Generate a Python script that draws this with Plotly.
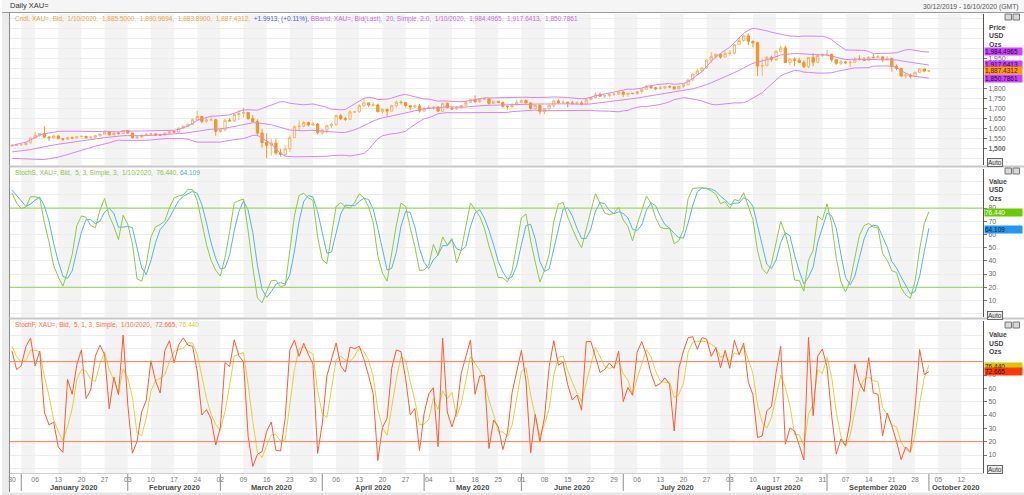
import numpy as np
import pandas as pd
import plotly.graph_objects as go

# ---------------- data: XAU= daily bid ----------------
# 20 sessions before the window (2–27 Dec 2019), needed to warm up the indicators
pre_high = [1470,1479,1481,1483,1478, 1465,1467,1477,1479,1480, 1480,1479,1480,1481,1481, 1488,1500,1502,1512,1515]
pre_low = [1454,1461,1470,1472,1457, 1458,1459,1460,1462,1466, 1473,1472,1472,1472,1474, 1477,1486,1497,1498,1507]
pre_close = [1463,1477,1474,1476,1460, 1461,1465,1475,1468,1476, 1476,1475,1475,1479,1478, 1487,1499,1500,1511,1511]

# 30 Dec 2019 – 1 Oct 2020, one value per weekday
open_ = [1511,1515,1517,1518,1528, 1552,1566,1574,1556,1553, 1562,1548,1545,1554,1551, 1557,1560,1553,1556,1563,
         1571,1582,1567,1576,1575, 1589,1577,1553,1556,1566, 1570,1572,1566,1566,1576, 1584,1581,1601,1611,1620,
         1643,1659,1635,1642,1643, 1585,1593,1640,1637,1669, 1674,1679,1649,1634,1576, 1529,1515,1526,1477,1470,
         1498,1553,1608,1611,1629, 1617,1621,1577,1591,1613, 1620,1663,1648,1645,1682, 1682,1713,1727,1716,1717,
         1683,1695,1686,1713,1730, 1729,1713,1706,1712,1687, 1700,1703,1705,1686,1725, 1702,1697,1702,1715,1730,
         1743,1733,1745,1748,1725, 1735,1729,1710,1708,1718, 1730,1739,1727,1699,1714, 1685,1698,1715,1737,1728,
         1730,1726,1725,1727,1722, 1743,1754,1768,1761,1763, 1771,1772,1781,1770,1775, 1774,1784,1795,1809,1803,
         1798,1802,1809,1807,1797, 1810,1817,1842,1871,1887, 1902,1941,1958,1970,1956, 1975,1976,2018,2039,2062,
         2035,2028,1911,1914,1954, 1944,1985,2002,1929,1946, 1940,1929,1908,1954,1930, 1964,1968,1970,1943,1925,
         1932,1928,1930,1945,1944, 1940,1955,1953,1957,1942, 1949,1911,1899,1862,1866, 1861,1880,1897,1885.5]
high = [1519,1524,1520,1530,1553, 1582,1576,1611,1561,1563, 1563,1549,1558,1558,1561, 1563,1562,1560,1566,1573,
        1588,1583,1580,1584,1589, 1592,1578,1562,1568,1574, 1576,1574,1572,1578,1585, 1586,1604,1612,1624,1649,
        1689,1660,1652,1660,1646, 1603,1649,1652,1673,1692, 1703,1681,1667,1645,1597, 1575,1547,1548,1497,1516,
        1565,1614,1640,1637,1633, 1632,1627,1595,1617,1626, 1669,1672,1657,1690,1685, 1720,1747,1729,1731,1723,
        1698,1699,1716,1739,1739, 1730,1715,1718,1722,1702, 1716,1711,1710,1726,1728, 1709,1711,1716,1737,1745,
        1765,1748,1753,1749,1737, 1737,1735,1715,1726,1744, 1745,1743,1729,1718,1720, 1700,1722,1740,1745,1744,
        1733,1738,1734,1737,1745, 1756,1779,1779,1768,1772, 1774,1785,1788,1776,1777, 1786,1797,1818,1817,1807,
        1815,1812,1815,1809,1812, 1820,1843,1872,1898,1904, 1945,1981,1973,1975,1985, 1992,2021,2055,2069,2075,
        2039,2033,1949,1962,1963, 1989,2015,2013,1950,1955, 1953,1941,1955,1976,1970, 1975,1992,1973,1945,1946,
        1937,1943,1956,1965,1956, 1962,1973,1966,1962,1961, 1953,1919,1903,1875,1873, 1882,1902,1899,1890.9694]
low = [1510,1513,1516,1516,1525, 1552,1558,1553,1536,1545, 1546,1536,1542,1546,1549, 1556,1547,1550,1550,1559,
       1568,1563,1565,1568,1571, 1573,1548,1547,1553,1561, 1566,1562,1563,1565,1572, 1578,1578,1599,1605,1616,
       1643,1625,1629,1636,1563, 1577,1584,1632,1633,1641, 1654,1641,1633,1561,1504, 1451,1465,1466,1459,1463,
       1482,1553,1591,1606,1609, 1612,1569,1568,1575,1602, 1612,1640,1637,1645,1679, 1679,1707,1705,1710,1680,
       1672,1659,1684,1704,1719, 1703,1690,1701,1679,1685, 1697,1693,1683,1683,1700, 1692,1693,1700,1709,1726,
       1725,1727,1741,1718,1723, 1725,1703,1693,1702,1713, 1726,1722,1693,1697,1670, 1671,1694,1704,1722,1724,
       1705,1718,1719,1715,1717, 1741,1751,1757,1752,1755, 1762,1766,1757,1758,1770, 1766,1774,1793,1797,1790,
       1796,1795,1803,1795,1796, 1801,1815,1837,1864,1879, 1898,1928,1946,1947,1954, 1962,1970,2016,2033,2015,
       2005,1862,1863,1910,1933, 1936,1980,1928,1916,1911, 1927,1901,1900,1911,1925, 1955,1960,1933,1917,1915,
       1922,1906,1927,1939,1937, 1939,1952,1950,1932,1941, 1882,1891,1855,1848,1849, 1855,1876,1880,1883.89]
close = [1515,1517,1518,1528,1552, 1566,1574,1556,1553,1562, 1548,1545,1554,1551,1557, 1560,1553,1556,1563,1571,
         1582,1567,1576,1575,1589, 1577,1553,1556,1566,1570, 1572,1566,1566,1576,1584, 1581,1601,1611,1620,1643,
         1659,1635,1642,1643,1585, 1593,1640,1637,1669,1674, 1679,1649,1634,1576,1529, 1515,1526,1477,1470,1498,
         1553,1608,1611,1629,1617, 1621,1577,1591,1613,1620, 1663,1648,1645,1682,1682, 1713,1727,1716,1717,1683,
         1695,1686,1713,1730,1729, 1713,1706,1712,1687,1700, 1703,1705,1686,1725,1702, 1697,1702,1715,1730,1743,
         1733,1745,1748,1725,1735, 1729,1710,1708,1718,1730, 1739,1727,1699,1714,1685, 1698,1715,1737,1728,1730,
         1726,1725,1727,1722,1743, 1754,1768,1761,1763,1771, 1772,1781,1770,1775,1774, 1784,1795,1809,1803,1798,
         1802,1809,1807,1797,1810, 1817,1842,1871,1887,1902, 1941,1958,1970,1956,1975, 1976,2018,2039,2062,2035,
         2028,1911,1914,1954,1944, 1985,2002,1929,1946,1940, 1929,1908,1954,1930,1964, 1968,1970,1943,1925,1932,
         1928,1930,1945,1944,1940, 1955,1953,1957,1942,1949, 1911,1899,1862,1866,1861, 1880,1897,1886,1887.4312]

# values printed in the chart's legends / axis boxes
bb_last = [1984.4965, 1917.6413, 1850.7861]
last_price = 1887.4312
stochs_last = [76.440, 64.109]
stochf_last = [72.665, 76.440]
price_ticks = [1500, 1550, 1600, 1650, 1700, 1750, 1800, 1950]
stoch_ticks = [10, 20, 30, 40, 50, 60, 70, 80]
stochf_ticks = [10, 20, 30, 40, 50, 60, 70]

# ---------------- indicators (as the chart defines them) ----------------
npre = len(pre_close)
C = pd.Series(pre_close + close, dtype=float)
H = pd.Series(pre_high + high, dtype=float)
L = pd.Series(pre_low + low, dtype=float)
mid = C.rolling(20).mean()
sd = C.rolling(20).std(ddof=0)
bb_up = (mid + 2 * sd)[npre:].tolist()
bb_mid = mid[npre:].tolist()
bb_lo = (mid - 2 * sd)[npre:].tolist()
hh = H.rolling(5).max()
ll = L.rolling(5).min()
fast_k = 100 * (C - ll) / (hh - ll)
fast_d = fast_k.rolling(3).mean()
slow_k = fast_d
slow_d = slow_k.rolling(3).mean()
fk = fast_k[npre:].tolist(); fd = fast_d[npre:].tolist()
sk = slow_k[npre:].tolist(); sdd = slow_d[npre:].tolist()

cal = pd.bdate_range("2019-12-30", "2020-10-16")
N = len(close)
xi = list(range(N))

# ---------------- geometry helpers (pixels -> paper) ----------------
W, Hh = 1024, 495
def PX(p): return p / W
def PY(p): return 1 - p / Hh

XL, XR = 8, 983
P1 = (14, 165); P2 = (169, 317); P3 = (321, 473)
FONT = "Liberation Sans"

fig = go.Figure()
fig.add_trace(go.Candlestick(
    x=xi, open=open_, high=high, low=low, close=close, xaxis="x", yaxis="y",
    increasing=dict(line=dict(color="#f9b45f", width=1), fillcolor="rgba(255,255,255,0)"),
    decreasing=dict(line=dict(color="#f7941d", width=1), fillcolor="#f7941d"),
    whiskerwidth=0, showlegend=False, hoverinfo="skip"))
for ser in (bb_up, bb_mid, bb_lo):
    fig.add_trace(go.Scatter(x=xi, y=ser, mode="lines", xaxis="x", yaxis="y",
                             line=dict(color="#d983f7", width=1), showlegend=False, hoverinfo="skip"))
fig.add_trace(go.Scatter(x=xi, y=sdd, mode="lines", xaxis="x", yaxis="y2",
                         line=dict(color="#55b2ee", width=1), showlegend=False, hoverinfo="skip"))
fig.add_trace(go.Scatter(x=xi, y=sk, mode="lines", xaxis="x", yaxis="y2",
                         line=dict(color="#8acc40", width=1), showlegend=False, hoverinfo="skip"))
fig.add_trace(go.Scatter(x=xi, y=fd, mode="lines", xaxis="x", yaxis="y3",
                         line=dict(color="#e3d03a", width=1), showlegend=False, hoverinfo="skip"))
fig.add_trace(go.Scatter(x=xi, y=fk, mode="lines", xaxis="x", yaxis="y3",
                         line=dict(color="#ff5a30", width=1), showlegend=False, hoverinfo="skip"))

# x axis range so that index i sits at pixel 10 + 4.64*i
ppd = 4.64
x0 = (XL - 10) / ppd
x1 = (XR - 10) / ppd

mondays = [i for i, d in enumerate(cal) if d.weekday() == 0]
mon_text = [cal[i].strftime("%d") for i in mondays]

shapes = []
annotations = []

# alternating week shading
stripes = [(2, 5)] + [(m, m + 5) for m in mondays if (m // 5) % 2 == 0 and m > 0]
for a, b in stripes:
    for yr in ("y domain", "y2 domain", "y3 domain"):
        shapes.append(dict(type="rect", xref="x", yref=yr, x0=a, x1=min(b, x1), y0=0, y1=1,
                           fillcolor="#f3f3f3", line=dict(width=0), layer="below"))

# overbought / oversold lines
for v in (80, 20):
    shapes.append(dict(type="line", xref="x domain", yref="y2", x0=0, x1=1, y0=v, y1=v,
                       line=dict(color="#8fd24f", width=1)))
    shapes.append(dict(type="line", xref="x domain", yref="y3", x0=0, x1=1, y0=v, y1=v,
                       line=dict(color="#ff7a5a", width=1)))

# header / frame
shapes.append(dict(type="rect", xref="paper", yref="paper", x0=0, x1=1, y0=PY(12), y1=1,
                   fillcolor="#f5f5f5", line=dict(width=0), layer="below"))
shapes.append(dict(type="line", xref="paper", yref="paper", x0=0, x1=1, y0=PY(12.5), y1=PY(12.5),
                   line=dict(color="#9a9a9a", width=1)))
shapes.append(dict(type="rect", xref="paper", yref="paper", x0=0, x1=PX(7), y0=PY(495), y1=PY(12.5),
                   fillcolor="#ececec", line=dict(width=0), layer="below"))
shapes.append(dict(type="line", xref="paper", yref="paper", x0=PX(7.5), x1=PX(7.5), y0=PY(492), y1=PY(12.5),
                   line=dict(color="#8a8a8a", width=1)))
for yb in (166.5, 318.5):
    shapes.append(dict(type="line", xref="paper", yref="paper", x0=PX(7.5), x1=1, y0=PY(yb), y1=PY(yb),
                       line=dict(color="#c8c8c8", width=2)))
shapes.append(dict(type="rect", xref="paper", yref="paper", x0=0, x1=1, y0=0, y1=PY(492.5),
                   fillcolor="#e6e6e6", line=dict(width=0)))

# month separators & labels on the time axis
firsts = [i for i in range(1, len(cal)) if cal[i].month != cal[i - 1].month]
for k, i in enumerate(firsts):
    shapes.append(dict(type="line", xref="x", yref="paper", x0=i, x1=i, y0=PY(491), y1=PY(474),
                       line=dict(color="#8c8c8c", width=1)))
    j = firsts[k + 1] if k + 1 < len(firsts) else x1
    annotations.append(dict(xref="x", yref="paper", x=(i + j) / 2, y=PY(487.5), text="<b>" + cal[i].strftime("%B %Y") + "</b>",
                            showarrow=False, font=dict(family=FONT, size=7.5, color="#4a4a4a"),
                            xanchor="center", yanchor="middle"))

# texts
def txt(x, y, s, size=7, color="#444", anchor="left"):
    annotations.append(dict(xref="paper", yref="paper", x=PX(x), y=PY(y), text=s, showarrow=False,
                            font=dict(family=FONT, size=size, color=color), xanchor=anchor, yanchor="middle"))

txt(6, 6, "Daily XAU=", 7.5, "#333")
txt(1021, 7, "30/12/2019 - 16/10/2020 (GMT)", 6.8, "#555", "right")
txt(11, 18.5, '<span style="color:#f5a33a">Cndl, XAU=, Bid,  1/10/2020,  1,885.5000,  1,890.9694,  1,883.8900,  1,887.4312, </span>'
    '<span style="color:#3b5cff"> +1.9913, (+0.11%),</span>'
    '<span style="color:#cc66ee"> BBand, XAU=, Bid(Last),  20, Simple, 2.0,  1/10/2020,  1,984.4965,  1,917.6413,  1,850.7861</span>', 6.5)
txt(11, 172.7, '<span style="color:#86c83c">StochS, XAU=, Bid,  5, 3, Simple, 3,  1/10/2020,  76.440, </span>'
    '<span style="color:#44a8ec">64.109</span>', 6.5)
txt(11, 325, '<span style="color:#ff6a44">StochF, XAU=, Bid,  5, 1, 3, Simple,  1/10/2020,  72.665, </span>'
    '<span style="color:#d8c83a">76.440</span>', 6.5)

for y0, lab in ((27, "Price"), (181, "Value"), (334.3, "Value")):
    txt(987, y0, "<b>" + lab + "</b>", 6.8, "#444")
    txt(987, y0 + 8.7, "<b>USD</b>", 6.8, "#444")
    txt(987, y0 + 17.4, "<b>Ozs</b>", 6.8, "#444")

# value boxes on the right axis
def box(yref, v, s, bg, fg):
    annotations.append(dict(xref="paper", yref=yref, x=PX(983.5), y=v, text=s, showarrow=False,
                            font=dict(family=FONT, size=6.5, color=fg), bgcolor=bg, xanchor="left",
                            yanchor="middle", width=37, height=7, align="left", valign="middle", borderpad=0))

box("y", bb_last[0], "1,984.4965", "#cc44ff", "#2a0038")
box("y", bb_last[1], "1,917.6413", "#cc44ff", "#2a0038")
box("y", last_price, "1,887.4312", "#ff9a00", "#3a2000")
box("y", bb_last[2], "1,850.7861", "#cc44ff", "#2a0038")
box("y2", stochs_last[0], "76.440", "#66cc00", "#ffffff")
box("y2", stochs_last[1], "64.109", "#2196f3", "#0a1a30")
box("y3", stochf_last[1], "76.440", "#d6c800", "#2a2400")
box("y3", stochf_last[0], "72.665", "#ff3a00", "#2a0800")

# "Auto" buttons and panel icons
for yb in (162, 315.5, 469.5):
    annotations.append(dict(xref="paper", yref="paper", x=PX(987), y=PY(yb), text="Auto", showarrow=False,
                            font=dict(family=FONT, size=6.5, color="#333"), bgcolor="#eeeeee",
                            bordercolor="#666", borderwidth=1, borderpad=0, xanchor="left", yanchor="middle"))
for yt in (14, 168, 322):
    for xa in (1005, 1013):
        shapes.append(dict(type="rect", xref="paper", yref="paper", x0=PX(xa), x1=PX(xa + 6.5),
                           y0=PY(yt + 6), y1=PY(yt), fillcolor="#d9d9d9", line=dict(color="#777", width=1)))

yax_common = dict(side="right", showline=True, linecolor="#555", linewidth=1, ticks="outside", ticklen=3,
                  tickcolor="#777", tickfont=dict(family=FONT, size=6.8, color="#666"),
                  showgrid=True, gridcolor="#ececec", gridwidth=1, zeroline=False, anchor="x", fixedrange=True)

fig.update_layout(
    width=W, height=Hh, margin=dict(l=0, r=0, t=0, b=0),
    paper_bgcolor="#ffffff", plot_bgcolor="#ffffff", showlegend=False,
    xaxis=dict(domain=[PX(XL), PX(XR)], range=[x0, x1], anchor="y3", tickvals=mondays, ticktext=mon_text,
               ticks="", showgrid=False, zeroline=False, showline=True, linecolor="#cfcfcf",
               tickfont=dict(family=FONT, size=6.8, color="#777"), rangeslider=dict(visible=False)),
    yaxis=dict(domain=[PY(P1[1]), PY(P1[0])], range=[1416.5, 2171.5], tickvals=price_ticks,
               ticktext=[("<b>1,500</b>" if v == 1500 else f"{v:,}") for v in price_ticks],
               minor=dict(dtick=50, showgrid=True, gridcolor="#ececec", ticks=""), **yax_common),
    yaxis2=dict(domain=[PY(P2[1]), PY(P2[0])], range=[-2.5, 109.6], tickvals=stoch_ticks,
                minor=dict(dtick=10, showgrid=True, gridcolor="#ececec", ticks=""), **yax_common),
    yaxis3=dict(domain=[PY(P3[1]), PY(P3[0])], range=[-3.5, 110.5], tickvals=stochf_ticks,
                minor=dict(dtick=10, showgrid=True, gridcolor="#ececec", ticks=""), **yax_common),
    shapes=shapes, annotations=annotations,
)

fig.write_html("out.html", config={"displayModeBar": False, "staticPlot": True},
               post_script="document.body.style.margin='0';document.body.style.padding='0';"
                           "document.body.style.overflow='hidden';")
